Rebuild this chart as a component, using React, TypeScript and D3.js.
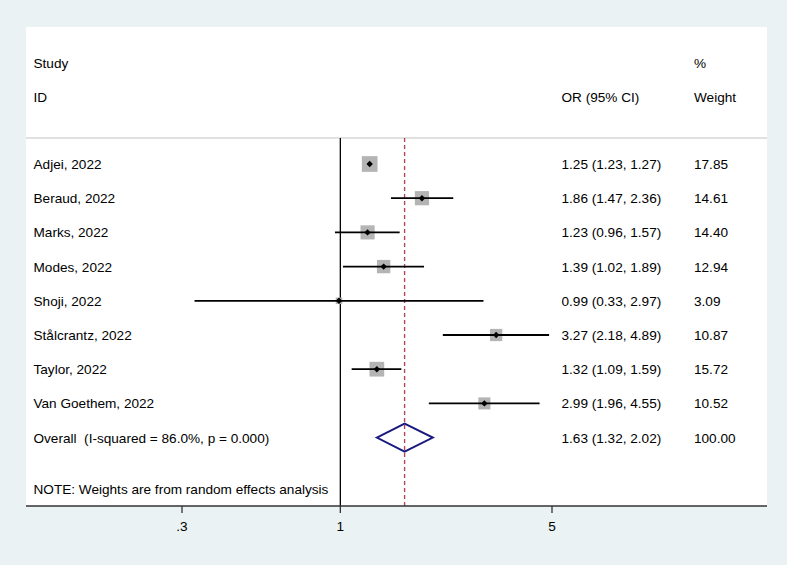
import React from "react";
import * as d3 from "d3";

const studies = ["Adjei, 2022", "Beraud, 2022", "Marks, 2022", "Modes, 2022", "Shoji, 2022", "Stålcrantz, 2022", "Taylor, 2022", "Van Goethem, 2022"];
const orValues = [1.25, 1.86, 1.23, 1.39, 0.99, 3.27, 1.32, 2.99];
const lowerCI = [1.23, 1.47, 0.96, 1.02, 0.33, 2.18, 1.09, 1.96];
const upperCI = [1.27, 2.36, 1.57, 1.89, 2.97, 4.89, 1.59, 4.55];
const weights = [17.85, 14.61, 14.40, 12.94, 3.09, 10.87, 15.72, 10.52];
const overall = { or: 1.63, lo: 1.32, hi: 2.02, weight: 100.0, label: "Overall  (I-squared = 86.0%, p = 0.000)" };
const tickValues = [0.3, 1, 5];
const tickLabels = [".3", "1", "5"];

const W = 787;
const H = 565;
const FONT = "'Liberation Sans', Arial, sans-serif";

export default function App() {
  const x = d3.scaleLog().domain([0.3, 5]).range([182, 552]);
  const rowY = d3.scaleLinear().domain([0, 1]).range([164, 198.2]);
  const side = d3.scaleSqrt().domain([0, 17.85]).range([0, 15.7]);
  const fmt = d3.format(".2f");

  const panel = { left: 26, right: 767, top: 27, bottom: 506 };
  const headerLineY = 138;
  const textX = 33.5;
  const orX = 561.5;
  const wX = 694;
  const fs = 13.6;

  const oy = rowY(8);
  const dh = 14;

  return (
    <svg width={W} height={H} style={{ position: "absolute", left: 0, top: 0 }} fontFamily={FONT}>
      <rect x={0} y={0} width={W} height={H} fill="#eaf2f3" />
      <rect x={panel.left} y={panel.top} width={panel.right - panel.left} height={panel.bottom - panel.top} fill="#ffffff" />
      {/* header */}
      <g fontSize={fs} fill="#000">
        <text x={textX} y={67.5}>Study</text>
        <text x={textX} y={102}>ID</text>
        <text x={orX} y={102}>OR (95% CI)</text>
        <text x={wX} y={67.5}>%</text>
        <text x={wX} y={102}>Weight</text>
      </g>
      <line x1={panel.left} x2={panel.right} y1={headerLineY} y2={headerLineY} stroke="#c4c4c4" strokeWidth={1.2} />
      {/* reference lines */}
      <line x1={x(1)} x2={x(1)} y1={headerLineY} y2={panel.bottom} stroke="#000" strokeWidth={1.3} />
      <line x1={x(overall.or)} x2={x(overall.or)} y1={headerLineY} y2={panel.bottom} stroke="#b0485a" strokeWidth={1.4} strokeDasharray="4,3" />
      {/* studies */}
      {studies.map((s, i) => {
        const y = rowY(i);
        const cx = x(orValues[i]);
        const sd = side(weights[i]);
        return (
          <g key={s}>
            <rect x={cx - sd / 2} y={y - sd / 2} width={sd} height={sd} fill="#b4b4b4" />
            <line x1={x(lowerCI[i])} x2={x(upperCI[i])} y1={y} y2={y} stroke="#000" strokeWidth={1.8} />
            <path d={`M${cx - 3.2},${y} L${cx},${y - 3.2} L${cx + 3.2},${y} L${cx},${y + 3.2} Z`} fill="#000" />
            <text x={textX} y={y + 5} fontSize={fs}>{s}</text>
            <text x={orX} y={y + 5} fontSize={fs}>{`${fmt(orValues[i])} (${fmt(lowerCI[i])}, ${fmt(upperCI[i])})`}</text>
            <text x={wX} y={y + 5} fontSize={fs}>{fmt(weights[i])}</text>
          </g>
        );
      })}
      {/* overall */}
      <path
        d={`M${x(overall.lo)},${oy} L${x(overall.or)},${oy - dh} L${x(overall.hi)},${oy} L${x(overall.or)},${oy + dh} Z`}
        fill="none"
        stroke="#1a1a80"
        strokeWidth={2}
      />
      <text x={textX} y={oy + 5} fontSize={fs} style={{ whiteSpace: "pre" }}>{overall.label}</text>
      <text x={orX} y={oy + 5} fontSize={fs}>{`${fmt(overall.or)} (${fmt(overall.lo)}, ${fmt(overall.hi)})`}</text>
      <text x={wX} y={oy + 5} fontSize={fs}>{fmt(overall.weight)}</text>
      <text x={textX} y={494} fontSize={fs}>NOTE: Weights are from random effects analysis</text>
      {/* axis */}
      <line x1={panel.left} x2={panel.right} y1={panel.bottom} y2={panel.bottom} stroke="#333" strokeWidth={1.4} />
      {tickValues.map((t, i) => (
        <g key={t}>
          <line x1={x(t)} x2={x(t)} y1={panel.bottom} y2={panel.bottom + 7} stroke="#333" strokeWidth={1.3} />
          <text x={x(t)} y={531} fontSize={fs} textAnchor="middle">{tickLabels[i]}</text>
        </g>
      ))}
    </svg>
  );
}
